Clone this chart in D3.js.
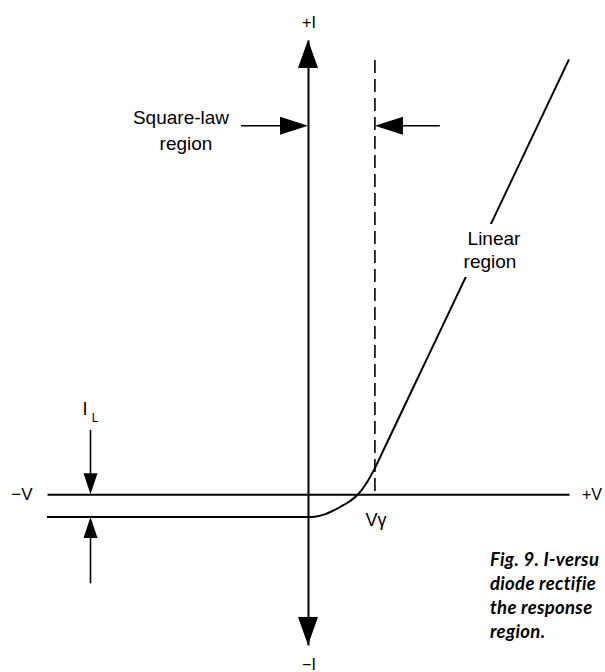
<!DOCTYPE html>
<html>
<head>
<meta charset="utf-8">
<script src="https://cdn.jsdelivr.net/npm/d3@7"></script>
<style>
  body { margin: 0; background: #fff; }
  svg { display: block; }
</style>
</head>
<body>
<script>
      var w = 605; // width of SVG space
      var h = 672; // height of SVG space

      // I-V curve of the diode (V in units of V-gamma, I in same scale)
      var curveV = [-3.9, 0, 0.1, 0.25, 0.48, 0.63, 0.75, 0.87, 1.0, 1.15, 2.0, 3.9];
      var curveI = [-0.34, -0.34, -0.335, -0.3, -0.19, -0.1, 0, 0.16, 0.39, 0.705, 2.49, 6.49];

      // axis extents
      var vRange = [-3.9, 3.9];
      var iRange = [-2.25, 6.78];

      // V-gamma knee and the dashed marker line
      var vGamma = 1.0;
      var dashTopI = 6.48;

      // region arrows (level in I, start and end in V)
      var regionArrowI = 5.5;
      var squareLawArrow = [-1.0, 0];
      var linearArrow = [1.97, 1.0];

      // leakage current I_L arrows
      var leakV = -3.25;
      var leakDownArrow = [0.96, 0];
      var leakUpArrow = [-1.33, -0.34];

      // caption, as much as shows inside the picture
      var captionLines = ["Fig. 9. I-versu", "diode rectifie", "the response", "region."];

      var data = curveV.map(function (v, i) { return [v, curveI[i]]; });

      var svg = d3.select("body").append("svg").attr("width", w).attr("height", h);
      svg.append("rect").attr("width", w).attr("height", h).attr("fill", "#fff");

      var xScale = d3.scaleLinear().domain(vRange).range([47, 569]);
      var yScale = d3.scaleLinear().domain(iRange).range([645, 40]);

      var x0 = xScale(0), y0 = yScale(0);

      // filled triangle arrowhead, dir = "up","down","left","right"
      function arrowHead(tx, ty, dir, len, hw) {
        var pts;
        if (dir == "up") pts = [[tx, ty], [tx - hw, ty + len], [tx + hw, ty + len]];
        if (dir == "down") pts = [[tx, ty], [tx - hw, ty - len], [tx + hw, ty - len]];
        if (dir == "right") pts = [[tx, ty], [tx - len, ty - hw], [tx - len, ty + hw]];
        if (dir == "left") pts = [[tx, ty], [tx + len, ty - hw], [tx + len, ty + hw]];
        svg.append("path").attr("d", "M" + pts.join("L") + "Z").attr("fill", "#000");
      }

      //************** axes **************
      var xAxis = d3.axisBottom(xScale).tickValues([]).tickSizeOuter(0);
      svg.append("g").attr("transform", "translate(0," + y0 + ")").call(xAxis)
        .select(".domain").attr("stroke", "#000").attr("stroke-width", 2);

      var yAxis = d3.axisLeft(yScale).tickValues([]).tickSizeOuter(0);
      svg.append("g").attr("transform", "translate(" + x0 + ",0)").call(yAxis)
        .select(".domain").attr("stroke", "#000").attr("stroke-width", 2);

      arrowHead(x0, yScale(iRange[1]), "up", 28, 10);
      arrowHead(x0, yScale(iRange[0]), "down", 28, 10);

      //************** dashed V-gamma line **************
      svg.append("line")
        .attr("x1", xScale(vGamma)).attr("x2", xScale(vGamma))
        .attr("y1", yScale(dashTopI)).attr("y2", y0)
        .attr("stroke", "#000").attr("stroke-width", 1.6)
        .attr("stroke-dasharray", "13,6");

      //************** the I-V curve **************
      var line = d3.line()
        .x(function (d) { return xScale(d[0]); })
        .y(function (d) { return yScale(d[1]); })
        .curve(d3.curveMonotoneX);
      svg.append("path").datum(data).attr("d", line)
        .attr("fill", "none").attr("stroke", "#000").attr("stroke-width", 2);

      //************** region arrows **************
      var ry = yScale(regionArrowI);
      svg.append("line").attr("x1", xScale(squareLawArrow[0])).attr("x2", xScale(squareLawArrow[1]) - 20)
        .attr("y1", ry).attr("y2", ry).attr("stroke", "#000").attr("stroke-width", 1.6);
      arrowHead(xScale(squareLawArrow[1]), ry, "right", 28, 9);
      svg.append("line").attr("x1", xScale(linearArrow[0])).attr("x2", xScale(linearArrow[1]) + 20)
        .attr("y1", ry).attr("y2", ry).attr("stroke", "#000").attr("stroke-width", 1.6);
      arrowHead(xScale(linearArrow[1]), ry, "left", 28, 9);

      //************** leakage arrows **************
      var lx = xScale(leakV);
      svg.append("line").attr("x1", lx).attr("x2", lx)
        .attr("y1", yScale(leakDownArrow[0])).attr("y2", yScale(leakDownArrow[1]) - 15)
        .attr("stroke", "#000").attr("stroke-width", 1.6);
      arrowHead(lx, yScale(leakDownArrow[1]), "down", 21, 7);
      svg.append("line").attr("x1", lx).attr("x2", lx)
        .attr("y1", yScale(leakUpArrow[0])).attr("y2", yScale(leakUpArrow[1]) + 15)
        .attr("stroke", "#000").attr("stroke-width", 1.6);
      arrowHead(lx, yScale(leakUpArrow[1]), "up", 21, 7);

      //************** labels **************
      var font = "'Liberation Sans', Arial, Helvetica, sans-serif";
      function label(txt, x, y, size, anchor) {
        return svg.append("text").text(txt).attr("x", x).attr("y", y)
          .attr("text-anchor", anchor || "middle")
          .style("font-family", font).style("font-size", size + "px").style("fill", "#000");
      }

      label("+I", x0 + 1, 28, 16);
      label("\u2212I", x0 + 1, 670, 16);
      label("\u2212V", 22, y0 + 6, 17);
      label("+V", 582, y0 + 6, 16, "start");
      label("V\u03b3", xScale(vGamma) + 1, 526, 18);

      label("Square-law", 181, 124, 19);
      label("region", 186, 150, 19);

      // white patch where the curve passes under the "Linear region" label
      svg.append("rect").attr("x", 458).attr("y", 224).attr("width", 70).attr("height", 53).attr("fill", "#fff");
      label("Linear", 494, 245, 19);
      label("region", 490, 268, 19);

      label("I", 85, 415, 18);
      label("L", 95, 422, 12);

      //************** caption **************
      svg.selectAll("text.cap").data(captionLines).enter().append("text")
        .attr("class", "cap")
        .text(function (d) { return d; })
        .attr("x", 490)
        .attr("y", function (d, i) { return 566 + i * 24; })
        .style("font-family", "Lato, 'Open Sans', sans-serif")
        .style("font-style", "italic")
        .style("font-weight", "bold")
        .style("font-size", "18.5px")
        .style("letter-spacing", "0.3px")
        .style("fill", "#000");
</script>
</body>
</html>
